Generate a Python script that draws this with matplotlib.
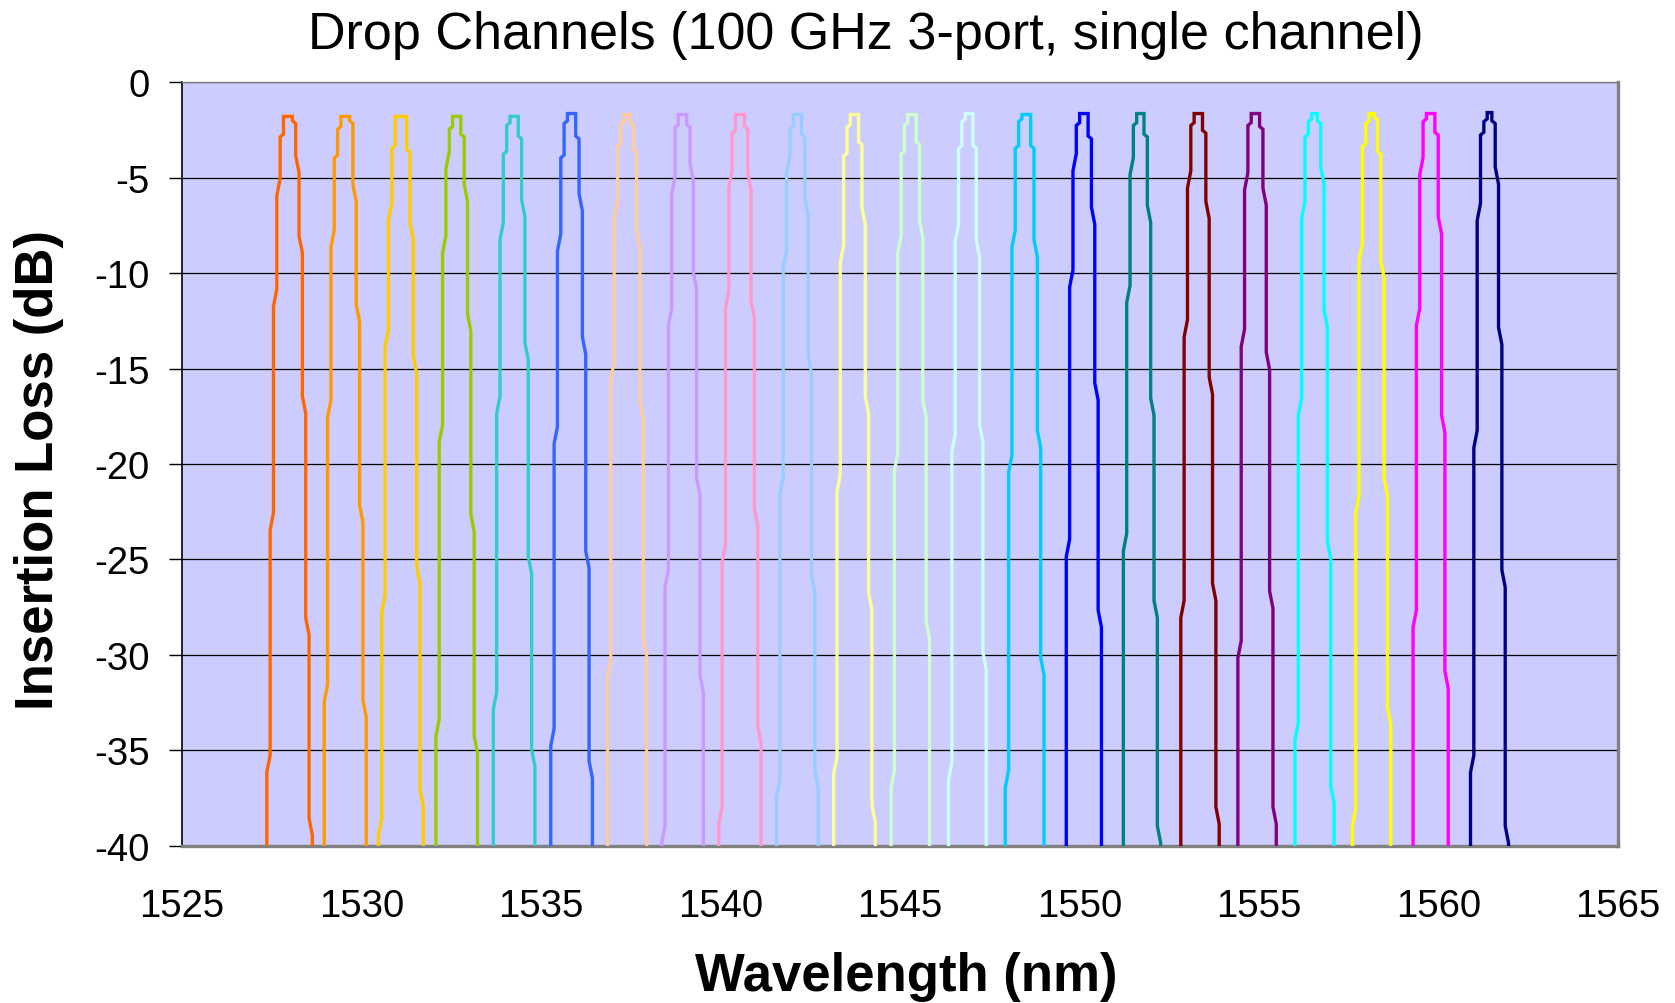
"""Drop-channel insertion loss for a 100 GHz 3-port filter set (22 channels)."""

import matplotlib
matplotlib.use("Agg")
import matplotlib.pyplot as plt

plt.rcParams.update({
    "font.family": ["Liberation Sans", "DejaVu Sans"],
    "axes.unicode_minus": False,
})

# passband edges at the -40 dB floor (nm)
EDGE_LEFT = [1527.36, 1528.96, 1530.47, 1532.07, 1533.67, 1535.27, 1536.85, 1538.36,
             1539.95, 1541.56, 1543.15, 1544.75, 1546.35, 1547.93, 1549.63, 1551.22,
             1552.82, 1554.41, 1556.00, 1557.60, 1559.29, 1560.89]
EDGE_RIGHT = [1528.63, 1530.13, 1531.72, 1533.23, 1534.83, 1536.43, 1537.94, 1539.52,
              1541.13, 1542.72, 1544.31, 1545.82, 1547.40, 1549.01, 1550.61, 1552.26,
              1553.89, 1555.48, 1557.09, 1558.67, 1560.27, 1561.95]

# loss levels (dB) where the skirt steps in, rising side (bottom -> top)
LEFT_STEPS = [
    [-35.7, -23.0, -11.3, -5.5, -2.8],
    [-32.0, -17.1, -8.2, -3.9, -2.4],
    [-39.0, -27.3, -13.4, -6.8, -3.4],
    [-33.8, -18.4, -8.5, -4.1, -2.4],
    [-32.4, -16.9, -7.8, -3.7, -2.2],
    [-34.3, -18.5, -8.4, -3.9, -2.1],
    [-30.7, -15.1, -6.7, -3.3, -2.1],
    [-39.4, -26.0, -12.3, -5.4, -2.3],
    [-38.4, -24.7, -11.4, -5.1, -2.6],
    [-37.0, -21.1, -9.3, -4.3, -2.4],
    [-35.8, -21.0, -9.0, -3.8, -2.3],
    [-36.5, -19.9, -8.5, -3.7, -2.2],
    [-36.1, -18.9, -7.9, -3.4, -2.0],
    [-36.5, -20.0, -8.2, -3.4, -2.0],
    [-24.4, -10.3, -4.2, -2.2],
    [-24.1, -11.1, -4.4, -2.2],
    [-27.6, -12.9, -5.1, -2.2],
    [-29.7, -13.4, -5.2, -2.2],
    [-34.0, -17.0, -6.7, -2.8, -2.0],
    [-38.5, -22.1, -8.9, -3.3, -2.1],
    [-28.1, -12.3, -4.4, -2.0],
    [-35.7, -18.7, -6.8, -2.7, -2.0],
]

# falling side (top -> bottom)
RIGHT_STEPS = [
    [-2.1, -4.3, -8.5, -16.9, -28.5, -39.0],
    [-2.1, -5.8, -12.1, -22.6, -32.8],
    [-3.6, -7.8, -14.8, -25.8, -37.5],
    [-2.8, -5.8, -12.6, -23.1, -34.7],
    [-2.9, -6.6, -14.1, -25.3, -35.4],
    [-2.9, -6.3, -13.8, -25.0, -36.0],
    [-2.2, -3.6, -8.2, -17.2, -29.6],
    [-2.3, -4.7, -10.4, -21.2, -31.5],
    [-2.4, -5.2, -11.9, -22.8, -34.2],
    [-2.8, -6.5, -14.8, -26.3, -36.5],
    [-3.2, -7.0, -16.9, -27.2, -38.3],
    [-3.2, -7.7, -17.1, -28.7],
    [-3.4, -8.7, -18.4, -30.3],
    [-3.4, -8.7, -18.7, -30.6],
    [-2.9, -7.0, -16.2, -28.1],
    [-2.8, -6.9, -17.0, -27.6, -39.4],
    [-2.6, -6.7, -15.9, -26.7, -38.4],
    [-2.4, -6.0, -14.6, -27.1, -38.4],
    [-2.1, -4.9, -12.4, -24.5, -37.3],
    [-1.9, -3.7, -9.8, -21.2, -33.2],
    [-2.7, -7.5, -17.9, -31.3],
    [-2.1, -4.9, -13.3, -26.0, -39.4],
]

PEAK = [-1.8, -1.8, -1.8, -1.8, -1.8, -1.65, -1.7, -1.7, -1.7, -1.7, -1.7,
        -1.7, -1.65, -1.7, -1.65, -1.65, -1.65, -1.65, -1.65, -1.65, -1.65, -1.6]

COLORS = ["#FF6600", "#FF9900", "#FFCC00", "#99CC00", "#33CCCC", "#3366FF",
          "#FFCC99", "#CC99FF", "#FF99CC", "#99CCFF", "#FFFF99", "#CCFFCC",
          "#CCFFFF", "#00CCFF", "#0000FF", "#008080", "#800000", "#800080",
          "#00FFFF", "#FFFF00", "#FF00FF", "#000080"]

FLOOR = -40.0
STEP = 0.093  # wavelength shift at each skirt step (nm)


def trace(bl, br, left, right, peak):
    """Build the stepped passband outline for one channel."""
    xs, ys = [bl], [FLOOR]
    x = bl
    for k in left:
        h = 0.9 if k < -4 else 0.15
        xs += [x, x + STEP]
        ys += [k - h / 2, k + h / 2]
        x += STEP
    xs.append(x); ys.append(peak)
    x = br - STEP * len(right)
    xs.append(x); ys.append(peak)
    for k in right:
        h = 0.9 if k < -4 else 0.15
        xs += [x, x + STEP]
        ys += [k + h / 2, k - h / 2]
        x += STEP
    xs.append(br); ys.append(FLOOR)
    return xs, ys


fig = plt.figure(figsize=(16.75, 10.04), dpi=100)
ax = fig.add_axes([0.1087, 0.1564, 0.8573, 0.7609])
ax.set_facecolor("#CCCCFF")

for i in range(len(COLORS)):
    xs, ys = trace(EDGE_LEFT[i], EDGE_RIGHT[i], LEFT_STEPS[i], RIGHT_STEPS[i], PEAK[i])
    ax.plot(xs, ys, color=COLORS[i], lw=2.4, solid_joinstyle="miter", zorder=3)

ax.set_xlim(1525, 1565)
ax.set_ylim(-40, 0)
ax.set_xticks(range(1525, 1566, 5))
ax.set_yticks(range(-40, 1, 5))
ax.yaxis.grid(True, color="black", lw=0.9)
ax.set_axisbelow(True)

ax.tick_params(axis="y", direction="out", length=9.5, width=1, pad=14, labelsize=27.5)
ax.tick_params(axis="x", length=0, pad=30, labelsize=27.5)

ax.spines["left"].set_color("black")
ax.spines["left"].set_linewidth(1.2)
ax.spines["top"].set_color("#808080")
ax.spines["top"].set_linewidth(1.0)
for side in ("right", "bottom"):
    ax.spines[side].set_color("#808080")
    ax.spines[side].set_linewidth(2.4)

fig.text(0.517, 0.965, "Drop Channels (100 GHz 3-port, single channel)",
         ha="center", va="center", fontsize=37.5)
fig.text(0.541, 0.027, "Wavelength (nm)", ha="center", va="center",
         fontsize=38, fontweight="bold")
fig.text(0.023, 0.532, "Insertion Loss (dB)", ha="center", va="center",
         rotation=90, fontsize=38, fontweight="bold")

fig.savefig("out.png", dpi=100)
